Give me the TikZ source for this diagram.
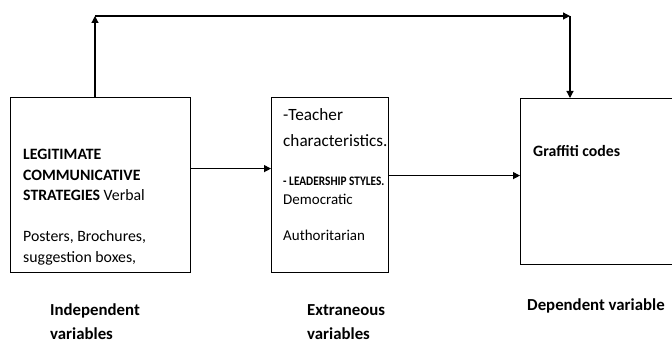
\documentclass[tikz,border=0pt]{standalone}
\usepackage{fontspec}
\setmainfont{Carlito}
\usetikzlibrary{arrows.meta}
\begin{document}
\begin{tikzpicture}[x=1pt,y=-1pt,
  box/.style={draw,line width=1.2pt,minimum width=#1,inner sep=0pt,anchor=north west},
  arr/.style={line width=1.2pt,-{Triangle[length=7pt,width=7pt]}},
  txt/.style={anchor=base west,inner sep=0pt,font=\fontsize{15.8}{19}\selectfont},
  big/.style={anchor=base west,inner sep=0pt,font=\fontsize{17.2}{21}\selectfont},
  small/.style={anchor=base west,inner sep=0pt,font=\fontsize{15}{18}\selectfont},
  head/.style={anchor=base west,inner sep=0pt,font=\fontsize{13}{16}\selectfont\bfseries},
  lab/.style={anchor=base west,inner sep=0pt,font=\fontsize{16.8}{20}\selectfont\bfseries}]
\useasboundingbox (0,0) rectangle (672,344);
\clip (0,0) rectangle (672,344);

% the three boxes
\node[box=180pt,minimum height=175pt] (b1) at (10,97) {};
\node[box=117pt,minimum height=175pt] (b2) at (271,97) {};
\node[box=156pt,minimum height=166pt] (b3) at (520,98) {};

% box texts
\node[txt] (l1) at (23,160) {\bfseries LEGITIMATE};
\node[txt] (l2) at (23,181) {\bfseries COMMUNICATIVE};
\node[txt] (l3) at (23,201) {\textbf{STRATEGIES} Verbal};
\node[txt] (l4) at (23,242) {Posters, Brochures,};
\node[txt] (l5) at (23,263) {suggestion boxes,};

\node[big] (m1) at (283,121) {-Teacher};
\node[big] (m2) at (283,147) {characteristics.};
\node[head] (m3) at (283,186) {\scalebox{0.87}[1]{- LEADERSHIP STYLES.}};
\node[small] (m4) at (283,205) {Democratic};
\node[small] (m5) at (283,241) {Authoritarian};

\node[txt] (r1) at (533,157) {\bfseries Graffiti codes};

% captions below
\node[lab] (c1) at (50,316) {Independent};
\node[lab] (c2) at (50,340) {variables};
\node[lab] (c3) at (307,316) {Extraneous};
\node[lab] (c4) at (307,340) {variables};
\node[lab] (c5) at (527,311) {Dependent variable};

% connectors
\coordinate (t1) at (95,16);
\coordinate (t2) at (570,16);
\draw[arr] ([yshift=16.5pt]b1.east) -- ([yshift=16.5pt]b1.east -| b2.west);
\draw[arr] ([yshift=9.5pt]b2.east) -- ([yshift=9.5pt]b2.east -| b3.west);
\draw[arr] (t1 |- b1.north) -- (t1);
\draw[arr] (t1) -- (t2);
\draw[arr] (t2) -- (t2 |- b3.north);
\end{tikzpicture}
\end{document}
